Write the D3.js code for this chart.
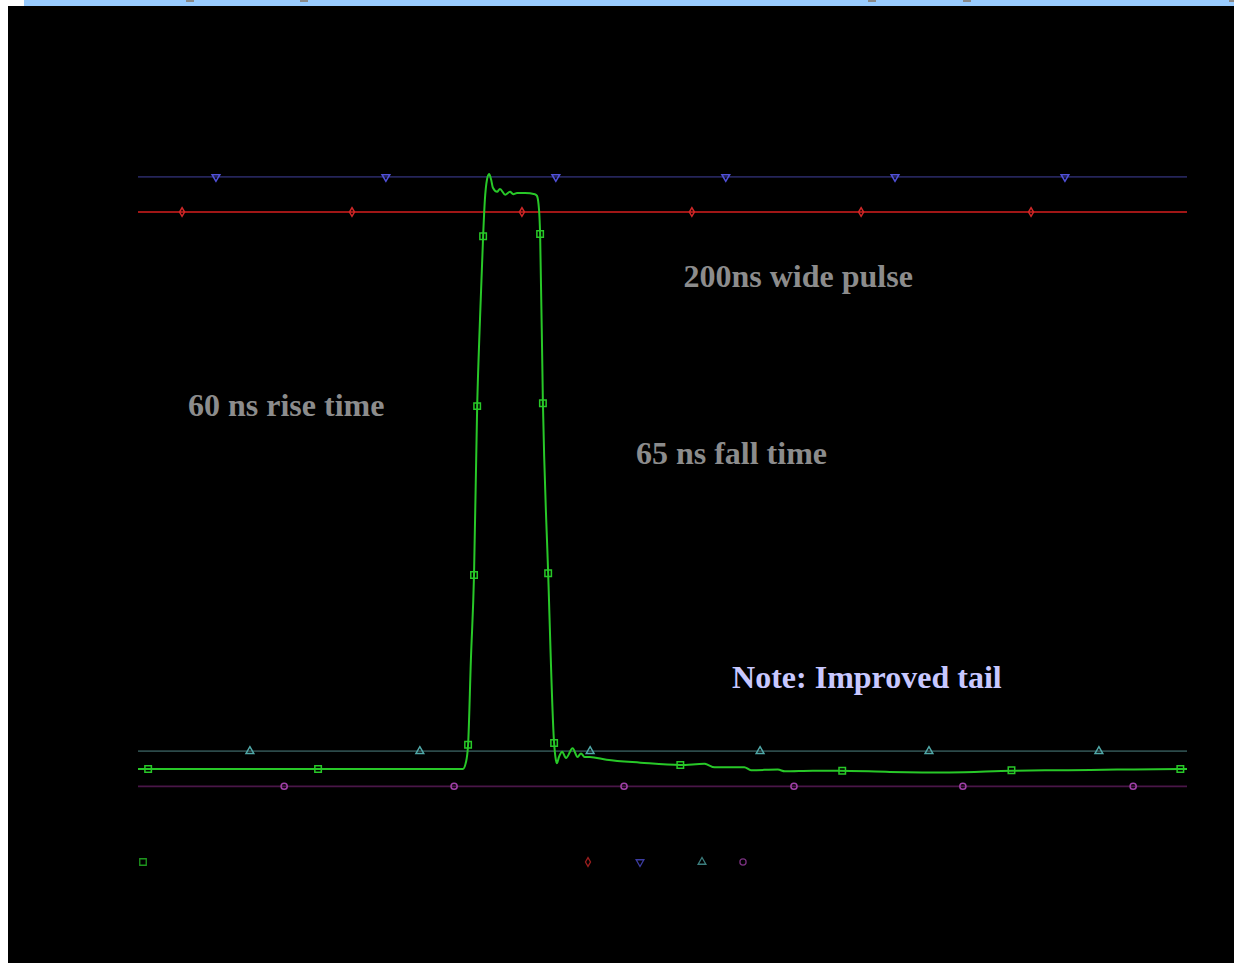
<!DOCTYPE html>
<html><head><meta charset="utf-8">
<script src="https://cdn.jsdelivr.net/npm/d3@7"></script>
<style>html,body{margin:0;padding:0;background:#fff;overflow:hidden}</style>
</head><body><svg id="c" width="1234" height="963"></svg>
<script>
// ---- data (time in ns, value normalised: 0 = baseline, 1 = pulse top) ----
const pulseTime = [0, 929, 938, 944, 952, 961, 970, 978, 987, 992, 998, 1004, 1010, 1015, 1027, 1035, 1050, 1064, 1073, 1084, 1107, 1135, 1141, 1147, 1150, 1158, 1173, 1190, 1195, 1198, 1204, 1213, 1224, 1243, 1257, 1267, 1277, 1292, 1340, 1437, 1551, 1620, 1649, 1734, 1753, 1830, 1850, 1930, 2000, 2150, 2320, 2500, 2660, 2800, 2980, 3000];
const pulseValue = [0, 0, 0.012, 0.042, 0.189, 0.337, 0.630, 0.780, 0.925, 0.988, 1.023, 1.033, 1.023, 1.009, 1.002, 1.007, 0.997, 1.002, 0.998, 1.000, 1.000, 0.998, 0.995, 0.970, 0.929, 0.635, 0.340, 0.045, 0.016, 0.010, 0.021, 0.030, 0.019, 0.036, 0.021, 0.027, 0.021, 0.021, 0.016, 0.011, 0.007, 0.009, 0.003, 0.003, -0.002, -0.001, -0.004, -0.003, -0.003, -0.005, -0.006, -0.003, -0.002, -0.001, 0.0, 0.0];
const pulseMarkerTime = [29, 515, 944, 961, 970, 987, 1150, 1158, 1173, 1190, 1551, 2014, 2498, 2981];
const pulseMarkerValue = [0, 0, 0.042, 0.337, 0.630, 0.925, 0.929, 0.635, 0.340, 0.045, 0.007, -0.003, -0.002, 0.0];

const refSeries = [
  {name: "upper limit", level: 1.028, markers: [223, 709, 1195, 1681, 2165, 2651], symbol: "down", line: "#25255a", mark: "#5050d8"},
  {name: "upper target", level: 0.967, markers: [126, 612, 1098, 1584, 2068, 2554], symbol: "diamond", line: "#a01616", mark: "#d02828"},
  {name: "lower limit", level: 0.031, markers: [320, 806, 1293, 1779, 2262, 2748], symbol: "up", line: "#2c4a4a", mark: "#50a8a8"},
  {name: "lower target", level: -0.030, markers: [418, 904, 1390, 1876, 2359, 2846], symbol: "circle", line: "#4a1648", mark: "#a040a8"}
];
const pulseColor = "#28c828";

const annotations = [
  {text: "200ns wide pulse", t: 1560, v: 0.837, color: "#8c8c8c"},
  {text: "60 ns rise time", t: 143, v: 0.613, color: "#8c8c8c"},
  {text: "65 ns fall time", t: 1424, v: 0.530, color: "#8c8c8c"},
  {text: "Note: Improved tail", t: 1699, v: 0.141, color: "#c8c8ff"}
];

// ---- drawing ----
const svg = d3.select("#c");
svg.append("rect").attr("x", 8).attr("y", 6).attr("width", 1226).attr("height", 957).attr("fill", "#000");
svg.append("rect").attr("x", 24).attr("y", 0).attr("width", 1210).attr("height", 6).attr("fill", "#99ccff");
[186, 300, 868, 963, 1229].forEach(x => svg.append("rect").attr("x", x).attr("y", 0).attr("width", 8).attr("height", 2).attr("fill", "#8a8a8a"));

const x = d3.scaleLinear().domain([0, 3000]).range([138, 1187]);
const y = d3.scaleLinear().domain([0, 1]).range([769, 193]);

function sym(kind) {
  if (kind === "down" || kind === "up") return d3.symbol().type(d3.symbolTriangle).size(26)();
  if (kind === "diamond") return d3.symbol().type(d3.symbolDiamond).size(22)();
  if (kind === "circle") return d3.symbol().type(d3.symbolCircle).size(30)();
  return d3.symbol().type(d3.symbolSquare).size(42)();
}
function rot(kind) { return kind === "down" ? " rotate(180)" : ""; }

refSeries.forEach(s => {
  svg.append("line").attr("x1", x(0)).attr("x2", x(3000)).attr("y1", y(s.level)).attr("y2", y(s.level))
    .attr("stroke", s.line).attr("stroke-width", 1.8);
  svg.selectAll(null).data(s.markers).join("path")
    .attr("d", sym(s.symbol))
    .attr("transform", d => `translate(${x(d)},${y(s.level)})${rot(s.symbol)}`)
    .attr("fill", "none").attr("stroke", s.mark).attr("stroke-width", 1.5);
});

const pts = pulseTime.map((t, i) => [t, pulseValue[i]]);
svg.append("path").datum(pts)
  .attr("d", d3.line().x(d => x(d[0])).y(d => y(d[1])).curve(d3.curveMonotoneX))
  .attr("fill", "none").attr("stroke", pulseColor).attr("stroke-width", 2).attr("stroke-linejoin", "round");
svg.selectAll(null).data(pulseMarkerTime.map((t, i) => [t, pulseMarkerValue[i]])).join("path")
  .attr("d", sym("square"))
  .attr("transform", d => `translate(${x(d[0])},${y(d[1])})`)
  .attr("fill", "none").attr("stroke", pulseColor).attr("stroke-width", 1.5);

// legend (labels not visible in the original; only the symbols)
const legend = [
  {x: 143, symbol: "square", color: pulseColor},
  {x: 588, symbol: "diamond", color: refSeries[1].mark},
  {x: 640, symbol: "down", color: refSeries[0].mark},
  {x: 702, symbol: "up", color: refSeries[2].mark},
  {x: 743, symbol: "circle", color: refSeries[3].mark}
];
legend.forEach(l => {
  svg.append("path").attr("d", sym(l.symbol)).attr("transform", `translate(${l.x},862)${rot(l.symbol)}`)
    .attr("fill", "none").attr("stroke", l.color).attr("stroke-width", 1.3).attr("opacity", 0.75);
});

svg.selectAll(null).data(annotations).join("text")
  .attr("x", d => x(d.t)).attr("y", d => y(d.v))
  .attr("fill", d => d.color)
  .attr("font-family", "'Liberation Serif', 'Times New Roman', serif")
  .attr("font-weight", "bold").attr("font-size", 32)
  .text(d => d.text);
</script></body></html>
